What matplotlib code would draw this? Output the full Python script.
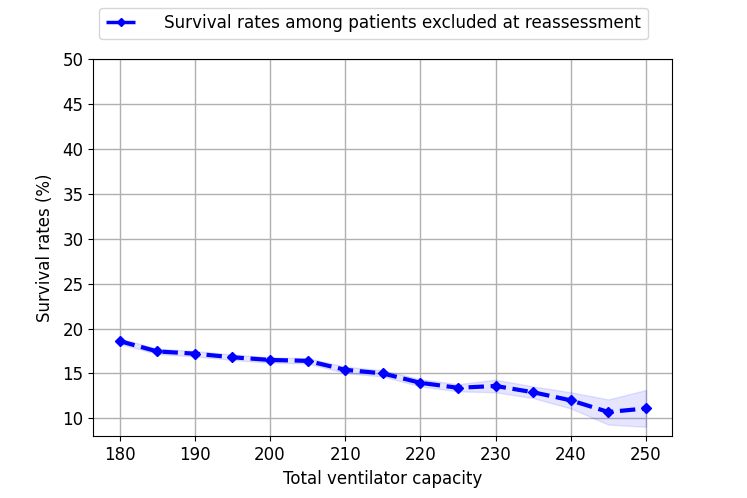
import numpy as np
import matplotlib
matplotlib.use("Agg")
import matplotlib.pyplot as plt

# --- Data ---
capacity = [180, 185, 190, 195, 200, 205, 210, 215, 220, 225, 230, 235, 240, 245, 250]
survival = [18.6, 17.45, 17.2, 16.8, 16.5, 16.4, 15.4, 15.0, 13.95, 13.4, 13.6, 12.9, 12.0, 10.7, 11.1]
spread = [0.3, 0.3, 0.3, 0.3, 0.3, 0.3, 0.35, 0.35, 0.4, 0.4, 0.7, 0.65, 0.9, 1.4, 2.05]

survival = np.array(survival)
spread = np.array(spread)

fig = plt.figure(figsize=(7.47, 4.98), dpi=100)
ax = fig.add_axes([0.125, 0.124, 0.775, 0.757])

ax.fill_between(capacity, survival - spread, survival + spread, color='blue', alpha=0.1, linewidth=1)
ax.plot(capacity, survival, color='blue', linestyle='--', linewidth=3, marker='D', markersize=5,
        label='Survival rates among patients excluded at reassessment')

ax.set_ylim(8, 50)
ax.set_yticks(np.arange(10, 51, 5))
ax.set_xticks(np.arange(180, 251, 10))
ax.grid(True, color='#b0b0b0', linewidth=1)
ax.set_axisbelow(True)
ax.tick_params(labelsize=12)
ax.set_xlabel('Total ventilator capacity', fontsize=12)
ax.set_ylabel('Survival rates (%)', fontsize=12, labelpad=6)

# legend sits centred on the figure, above the axes
leg = fig.legend(loc='upper center', bbox_to_anchor=(0.5, 1.0), fontsize=12.1,
                 handlelength=1.75, handletextpad=1.7, borderaxespad=0.45)
for line in leg.get_lines():
    line.set_linewidth(2.5)
    line.set_markersize(4)

fig.savefig('out.png', dpi=100)
